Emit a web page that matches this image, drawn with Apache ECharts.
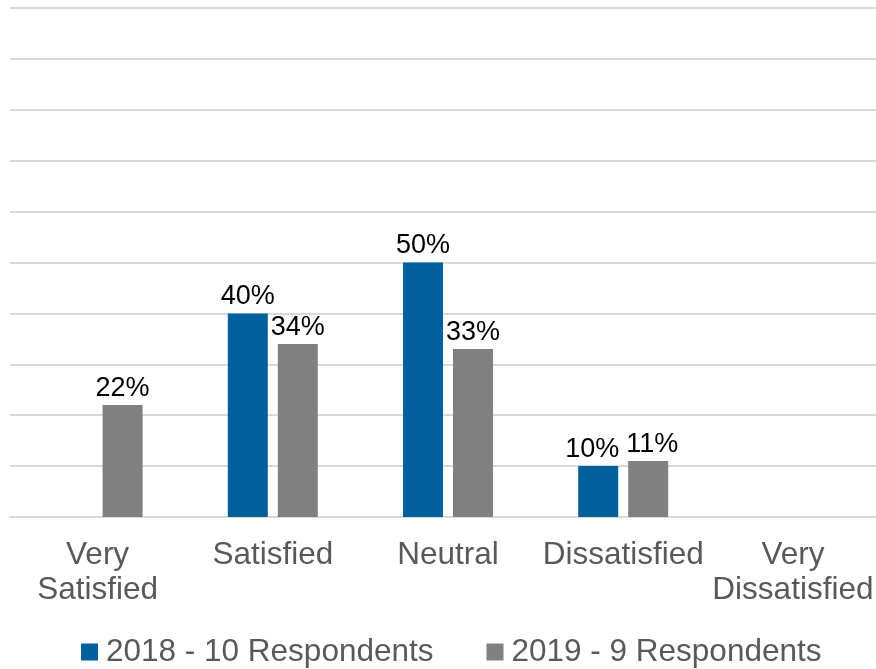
<!DOCTYPE html>
<html>
<head>
<meta charset="utf-8">
<script src="https://cdn.jsdelivr.net/npm/echarts@6/dist/echarts.min.js"></script>
<style>html,body{margin:0;padding:0;background:#fff}#c{width:876px;height:669px}</style>
</head>
<body>
<div id="c"></div>
<script>
const categories = ['Very\nSatisfied', 'Satisfied', 'Neutral', 'Dissatisfied', 'Very\nDissatisfied'];
const series2018Name = '2018 - 10 Respondents';
const series2019Name = '2019 - 9 Respondents';
const values2018 = [0, 40, 50, 10, 0];
const values2019 = [22, 34, 33, 11, 0];

const FONT = 'Liberation Sans, Arial, sans-serif';
const chart = echarts.init(document.getElementById('c'), null, {renderer: 'canvas'});
const labelCfg = {
  show: true, position: 'top', distance: 3,
  color: '#000', fontSize: 27, fontFamily: FONT,
  formatter: p => p.value ? p.value + '%' : ''
};
// nudge the crowded "Dissatisfied" labels apart like the original
const withOffset = (arr, idx, dx) => arr.map((v, i) => i === idx ? {value: v, label: {offset: [dx, 0]}} : v);
const axisRich = {
  n: {fontSize: 31.5, color: '#595959', lineHeight: 35, fontFamily: FONT},
  r: {fontSize: 31.5, color: '#595959', lineHeight: 35, fontFamily: FONT, padding: [0, 11, 0, 0]}
};
chart.setOption({
  animation: false,
  textStyle: {fontFamily: FONT},
  grid: {left: 10, width: 876, top: 8, height: 509, containLabel: false, outerBoundsMode: 'none'},
  legend: {
    top: 631, left: 76, itemWidth: 17, itemHeight: 17, itemGap: 53,
    icon: 'rect',
    textStyle: {fontSize: 31.5, color: '#595959', fontFamily: FONT, padding: [0, 0, 0, 3]},
    data: [series2018Name, series2019Name]
  },
  xAxis: {
    type: 'category', data: categories,
    axisLine: {show: true, lineStyle: {color: '#d9d9d9', width: 2}},
    axisTick: {show: false},
    axisLabel: {
      fontSize: 31.5, color: '#595959', lineHeight: 35, margin: 21, interval: 0, fontFamily: FONT,
      formatter: (v, i) => {
        const key = i === categories.length - 1 ? 'r' : 'n';
        return v.split('\n').map(s => '{' + key + '|' + s + '}').join('\n');
      },
      rich: axisRich
    }
  },
  yAxis: {
    type: 'value', min: 0, max: 100, interval: 10,
    axisLabel: {show: false}, axisLine: {show: false}, axisTick: {show: false},
    splitLine: {lineStyle: {color: '#d9d9d9', width: 2}}
  },
  series: [
    {name: series2018Name, type: 'bar', data: withOffset(values2018, 3, -6), barWidth: 40, barGap: '25%',
     itemStyle: {color: '#00609C'}, label: labelCfg},
    {name: series2019Name, type: 'bar', data: withOffset(values2019, 3, 4), barWidth: 40, barGap: '25%',
     itemStyle: {color: '#808080'}, label: labelCfg}
  ]
});
</script>
</body>
</html>
